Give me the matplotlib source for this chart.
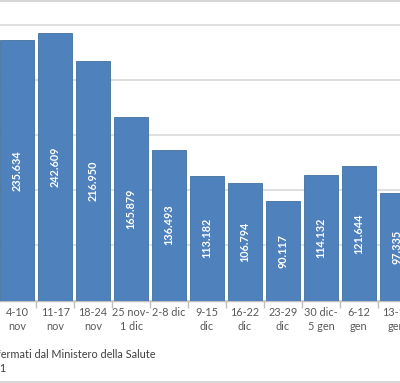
import numpy as np
import matplotlib
matplotlib.use("Agg")
import matplotlib.pyplot as plt
from matplotlib.lines import Line2D

plt.rcParams['font.family'] = ['Lato', 'DejaVu Sans']

# Data
settimane = ["4-10\nnov", "11-17\nnov", "18-24\nnov", "25 nov-\n1 dic", "2-8 dic",
             "9-15\ndic", "16-22\ndic", "23-29\ndic", "30 dic-\n5 gen", "6-12\ngen",
             "13-19\ngen"]
casi = [235634, 242609, 216950, 165879, 136493, 113182, 106794, 90117, 114132,
        121644, 97335]
etichette = ["235.634", "242.609", "216.950", "165.879", "136.493", "113.182",
             "106.794", "90.117", "114.132", "121.644", "97.335"]

W, H = 400, 383
fig = plt.figure(figsize=(W / 100, H / 100), dpi=100)

base_px = 300.5
ax = fig.add_axes([0, (H - base_px) / H, 1, base_px / H])

x = np.arange(len(casi))
ax.bar(x, casi, width=0.895, color='#4f81bd', edgecolor='#41719c', linewidth=0.6, zorder=3)

for xi, v, lab in zip(x, casi, etichette):
    ax.text(xi, v / 2, lab, rotation=90, ha='center', va='center', color='white',
            fontsize=7.8, fontweight='bold', zorder=4)

ax.set_yticks([0, 50000, 100000, 150000, 200000, 250000])
ax.yaxis.grid(True, color='#d9d9d9', linewidth=1.2, zorder=0)
ax.set_yticklabels([])
ax.tick_params(axis='y', length=0)

ax.set_xticks(x)
ax.set_xticklabels(settimane, fontsize=7.8, color='#595959', linespacing=1.3)
ax.set_xticks(np.arange(-0.5, 11, 1), minor=True)
ax.tick_params(axis='x', which='major', length=0, pad=5)
ax.tick_params(axis='x', which='minor', length=5, color='#bfbfbf', width=1, direction='out')

# limits after ticks (the plot is cropped on both sides)
ax.set_xlim(-0.453, 10.084)
ax.set_ylim(0, 272200)

for s in ['top', 'left', 'right']:
    ax.spines[s].set_visible(False)
ax.spines['bottom'].set_color('#bfbfbf')
ax.spines['bottom'].set_linewidth(1)

# Footer (cropped on the left, as in the original)
fig.text(-44 / W, 1 - 354 / H, "Dati confermati dal Ministero della Salute",
         fontsize=7.8, color='#404040', va='center', ha='left')
fig.text(-18 / W, 1 - 369 / H, "2021", fontsize=7.8, color='#404040',
         va='center', ha='left')

# chart borders
fig.add_artist(Line2D([0, 1], [1 - 1 / H, 1 - 1 / H], color='#d0d0d0', linewidth=1.2,
                      transform=fig.transFigure))
fig.add_artist(Line2D([0, 1], [1 - 381.5 / H, 1 - 381.5 / H], color='#d0d0d0',
                      linewidth=1.2, transform=fig.transFigure))

fig.savefig("out.png", dpi=100)
